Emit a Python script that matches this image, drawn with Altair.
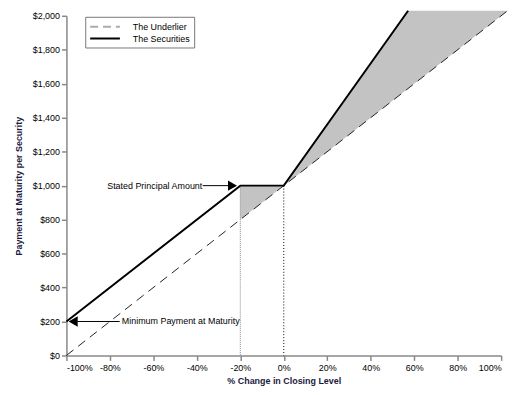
import altair as alt
import pandas as pd

# ---- data ----
under_x = [-100, 103]
under_y = [0, 2030]

sec_x = [-100, -20, 0, 57.2]
sec_y = [200, 1000, 1000, 2030]

# shaded regions (x, underlier value, securities value)
shade_grp = ["buffer", "buffer", "upside", "upside", "upside"]
shade_x = [-20, 0, 0, 57.2, 103]
shade_lo = [800, 1000, 1000, 1572, 2030]
shade_hi = [1000, 1000, 1000, 2030, 2030]

guide_x = [-20, 0]
guide_top = [1000, 1000]

x_ticks = [-100, -80, -60, -40, -20, 0, 20, 40, 60, 80, 100]
y_ticks = [0, 200, 400, 600, 800, 1000, 1200, 1400, 1600, 1800, 2000]

series = ["The Underlier", "The Securities"]

# annotations
ann_text = ["Stated Principal Amount", "Minimum Payment at Maturity"]
ann_x = [-37.5, -74.5]
ann_y = [1000, 200]
arrow_grp = ["a", "a", "b", "b"]
arrow_x = [-37.3, -23, -75.5, -95]
arrow_y = [1000, 1000, 200, 200]
head_x = [-23.6, -96.9]
head_y = [1000, 200]
head_shape = ["triangle-right", "triangle-left"]

FONT = "Liberation Sans"

xs = alt.Scale(domain=[-100, 100], nice=False, zero=False)
ys = alt.Scale(domain=[0, 2000], nice=False)

xax = alt.Axis(values=x_ticks, labelExpr="datum.value + '%'",
               title="% Change in Closing Level", grid=False, labelOverlap=False,
               domainColor="#888", tickColor="#888", tickSize=5,
               labelFontSize=9, labelFont=FONT, labelColor="black",
               titleFont=FONT, titleFontSize=9, titleFontWeight="bold",
               titleColor="#1a1a40", titlePadding=4, labelPadding=3)
yax = alt.Axis(values=y_ticks, format="$,.0f", title="Payment at Maturity per Security",
               grid=False, labelOverlap=False, domainColor="#888", tickColor="#888", tickSize=5,
               labelFontSize=9, labelFont=FONT, labelColor="black",
               titleFont=FONT, titleFontSize=9, titleFontWeight="bold",
               titleColor="#1a1a40", titlePadding=9, labelPadding=2)


def X(f):
    return alt.X(f, type="quantitative", scale=xs, axis=xax)


def Y(f):
    return alt.Y(f, type="quantitative", scale=ys, axis=yax)


shade_df = pd.DataFrame({"g": shade_grp, "x": shade_x, "lo": shade_lo, "hi": shade_hi})
shade = alt.Chart(shade_df).mark_area(color="#c3c3c3", clip=False).encode(
    x=X("x"), y=Y("lo"), y2="hi:Q", detail="g:N")

guide_df = pd.DataFrame({"x": guide_x, "top": guide_top})
guide1 = alt.Chart(guide_df.iloc[[0]]).mark_rule(color="#888", strokeDash=[1, 1], strokeWidth=1).encode(
    x=X("x"), y=Y("top"), y2=alt.datum(0))
guide2 = alt.Chart(guide_df.iloc[[1]]).mark_rule(color="black", strokeDash=[1, 2], strokeWidth=1).encode(
    x=X("x"), y=Y("top"), y2=alt.datum(0))

under_df = pd.DataFrame({"x": under_x, "y": under_y})
under = alt.Chart(under_df).mark_line(color="#222", strokeWidth=1, strokeDash=[9, 6], clip=False).encode(
    x=X("x"), y=Y("y"))

sec_df = pd.DataFrame({"x": sec_x, "y": sec_y})
sec = alt.Chart(sec_df).mark_line(color="black", strokeWidth=2, clip=False).encode(
    x=X("x"), y=Y("y"))

# legend-only layer (single-point lines draw nothing)
NB = "\u00a0" * 18
leg_df = pd.DataFrame({"s": series, "x": [0, 0], "y": [0, 0]})
leg = alt.Chart(leg_df).mark_line(strokeWidth=2).encode(
    x=X("x"), y=Y("y"),
    color=alt.Color("s:N", scale=alt.Scale(domain=series, range=["#aaa", "black"]),
                    legend=alt.Legend(title=None, orient="none", legendX=19, legendY=1,
                                      symbolType="M-1,0H5", symbolSize=100, symbolStrokeWidth=2,
                                      labelFont=FONT, labelFontSize=9, labelColor="black",
                                      strokeColor="#777", padding=4, rowPadding=1,
                                      labelOffset=32, fillColor="white",
                                      labelExpr="datum.label + '" + NB + "'")),
    strokeDash=alt.StrokeDash("s:N", scale=alt.Scale(domain=series, range=[[8, 5], [1, 0]]), legend=None),
)

ann_df = pd.DataFrame({"t": ann_text, "x": ann_x, "y": ann_y})
ann_r = alt.Chart(ann_df.iloc[[0]]).mark_text(align="right", baseline="middle", font=FONT, fontSize=9, color="black").encode(
    x=X("x"), y=Y("y"), text="t:N")
ann_l = alt.Chart(ann_df.iloc[[1]]).mark_text(align="left", baseline="middle", font=FONT, fontSize=9, color="black").encode(
    x=X("x"), y=Y("y"), text="t:N")

arrow_df = pd.DataFrame({"g": arrow_grp, "x": arrow_x, "y": arrow_y})
arrows = alt.Chart(arrow_df).mark_line(color="black", strokeWidth=1, clip=False).encode(
    x=X("x"), y=Y("y"), detail="g:N")

head_df = pd.DataFrame({"x": head_x, "y": head_y, "s": head_shape})
heads = alt.Chart(head_df).mark_point(filled=True, color="black", opacity=1, size=110, clip=False).encode(
    x=X("x"), y=Y("y"), shape=alt.Shape("s:N", scale=None))

chart = alt.layer(shade, guide1, guide2, under, sec, leg, arrows, heads, ann_r, ann_l).properties(
    width=439, height=343,
    autosize=alt.AutoSizeParams(type="none"),
    padding={"left": 59, "top": 6, "right": 14, "bottom": 32},
).configure_view(stroke=None).configure_axis(domainWidth=1.5, tickWidth=1.5)

chart.save("out.html", embed_options={"renderer": "svg", "actions": False})
